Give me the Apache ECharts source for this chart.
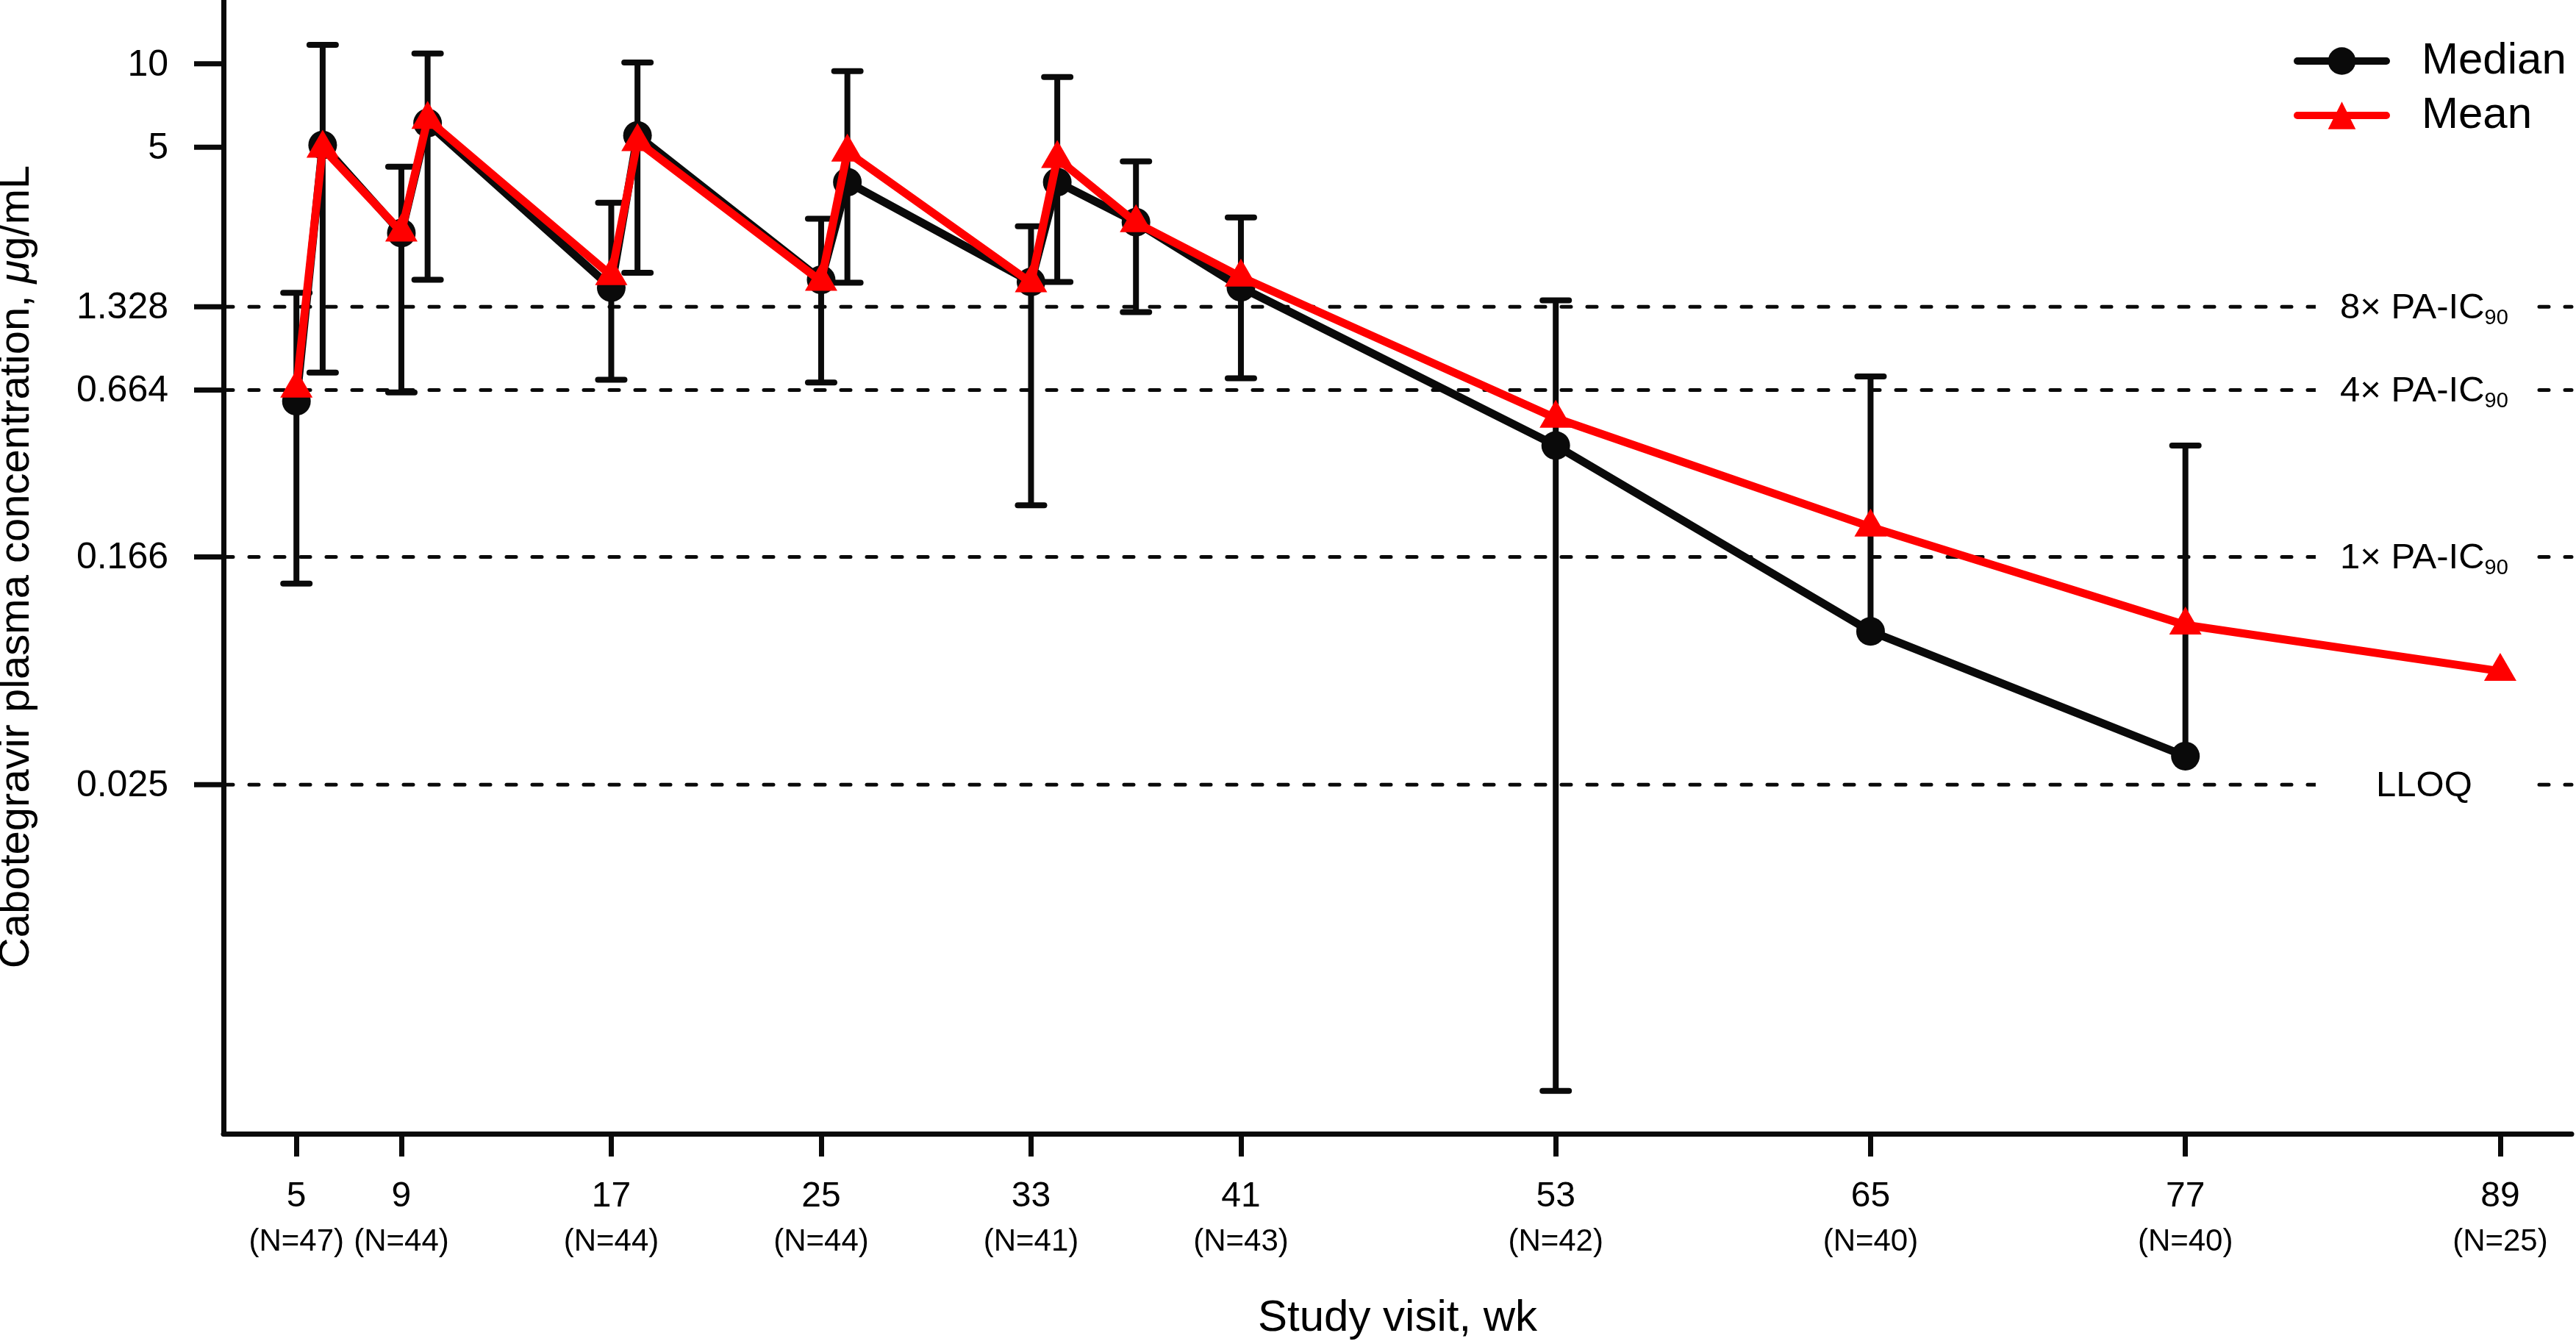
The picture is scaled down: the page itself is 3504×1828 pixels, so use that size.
<!DOCTYPE html>
<html>
<head>
<meta charset="utf-8">
<script src="https://cdn.jsdelivr.net/npm/echarts@6.0.0/dist/echarts.min.js"></script>
<style>
html,body{margin:0;padding:0;background:#ffffff;}
#chart{width:3504px;height:1828px;}
</style>
</head>
<body>
<div id="chart"></div>
<script>
// ---------------- data ----------------
const weeks   = [5, 6, 9, 10, 17, 18, 25, 26, 33, 34, 37, 41, 53, 65, 77, 89];
const median  = [0.605, 5.09, 2.45, 6.11, 1.555, 5.51, 1.66, 3.74, 1.63, 3.74, 2.68, 1.56, 0.419, 0.0894, 0.0317, null];
const mean    = [0.676, 4.96, 2.47, 6.30, 1.72, 5.24, 1.64, 4.80, 1.62, 4.55, 2.67, 1.70, 0.526, 0.213, 0.0943, 0.0642];
const errHigh = [1.49, 11.7, 4.25, 10.9, 3.15, 10.1, 2.76, 9.4, 2.59, 8.96, 4.44, 2.79, 1.40, 0.744, 0.419, null];
const errLow  = [0.133, 0.768, 0.651, 1.66, 0.724, 1.76, 0.707, 1.62, 0.255, 1.63, 1.27, 0.732, 0.00196, null, null, null];

const xTicks      = [5, 9, 17, 25, 33, 41, 53, 65, 77, 89];
const xTickLabels = ['5', '9', '17', '25', '33', '41', '53', '65', '77', '89'];
const xN          = [47, 44, 44, 44, 41, 43, 42, 40, 40, 25];

const yTickValues = [10, 5, 1.328, 0.664, 0.166, 0.025];
const yTickLabels = ['10', '5', '1.328', '0.664', '0.166', '0.025'];

const refValues   = [1.328, 0.664, 0.166, 0.025];
const refMain     = ['8\u00d7 PA-IC', '4\u00d7 PA-IC', '1\u00d7 PA-IC', 'LLOQ'];
const refSub      = ['90', '90', '90', ''];

// ---------------- layout constants ----------------
const FONT = "'Liberation Sans', Arial, Helvetica, sans-serif";
const X_MIN = 2.22, X_MAX = 91.72;
const Y_MIN = 0.001374, Y_MAX = 16.99;
const REF_LABEL_X = 86.1;
const BLACK = '#0a0a0a';
const RED = '#ff0000';

const medianData = weeks.map((w, i) => [w, median[i]]).filter(d => d[1] != null);
const meanData = weeks.map((w, i) => [w, mean[i]]).filter(d => d[1] != null);
const errData = weeks.map((w, i) => [w, errLow[i], errHigh[i], median[i]]).filter(d => d[2] != null);

const chart = echarts.init(document.getElementById('chart'), null, {renderer: 'canvas'});

const option = {
  animation: false,
  backgroundColor: '#ffffff',
  textStyle: {fontFamily: FONT, color: '#000'},
  grid: {left: 304, right: 6, top: 0, bottom: 286, containLabel: false, outerBoundsMode: 'none'},
  legend: {
    data: ['Median', 'Mean'],
    orient: 'vertical',
    left: 3120,
    top: 53,
    padding: 0,
    itemWidth: 121,
    itemHeight: 47,
    itemGap: 14,
    selectedMode: false,
    lineStyle: {width: 10},
    textStyle: {fontSize: 60, lineHeight: 60, fontFamily: FONT, color: '#000', padding: [0, 0, 0, 43]}
  },
  xAxis: {
    type: 'value',
    min: X_MIN,
    max: X_MAX,
    splitLine: {show: false},
    axisLine: {show: true, lineStyle: {color: BLACK, width: 7, cap: 'round'}},
    axisTick: {show: true, inside: false, length: 31, customValues: xTicks, lineStyle: {color: BLACK, width: 7}},
    axisLabel: {
      show: true,
      customValues: xTicks,
      margin: 56,
      formatter: function (val) {
        const i = xTicks.indexOf(Math.round(val));
        return '{a|' + xTickLabels[i] + '}\n{b|(N=' + xN[i] + ')}';
      },
      rich: {
        a: {fontSize: 48, lineHeight: 60, fontFamily: FONT, color: '#000', align: 'center'},
        b: {fontSize: 42, lineHeight: 62, fontFamily: FONT, color: '#000', align: 'center'}
      }
    },
    name: 'Study visit, wk',
    nameLocation: 'middle',
    nameGap: 221,
    nameTextStyle: {fontSize: 60, lineHeight: 60, fontFamily: FONT, color: '#000'}
  },
  yAxis: {
    type: 'log',
    logBase: 10,
    min: Y_MIN,
    max: Y_MAX,
    splitLine: {show: false},
    axisLine: {show: true, lineStyle: {color: BLACK, width: 7}},
    axisTick: {show: false},
    axisLabel: {show: false},
    name: '{n|Cabotegravir plasma concentration, }{i|\u03bc}{n|g/mL}',
    nameLocation: 'middle',
    nameRotate: 90,
    nameGap: 252,
    nameTextStyle: {
      fontSize: 58, lineHeight: 58, fontFamily: FONT, color: '#000',
      rich: {
        n: {fontSize: 58, lineHeight: 58, fontFamily: FONT, color: '#000'},
        i: {fontSize: 58, lineHeight: 58, fontFamily: FONT, color: '#000', fontStyle: 'italic'}
      }
    }
  },
  series: [
    {
      name: 'refLines',
      type: 'custom',
      silent: true,
      z: 1,
      clip: false,
      data: refValues.map(v => [REF_LABEL_X, v]),
      renderItem: function (params, api) {
        const i = params.dataIndex;
        const v = api.value(1);
        const pl = api.coord([X_MIN, v]);
        const pr = api.coord([X_MAX, v]);
        const pc = api.coord([api.value(0), v]);
        const text = '{m|' + refMain[i] + '}' + (refSub[i] ? '{s|' + refSub[i] + '}' : '');
        return {
          type: 'group',
          children: [
            {type: 'line', shape: {x1: pl[0], y1: pl[1], x2: pr[0], y2: pr[1]},
             style: {stroke: BLACK, lineWidth: 5, lineDash: [13, 22], lineCap: 'round'}},
            {type: 'rect', shape: {x: pc[0] - 147.5, y: pc[1] - 24, width: 295, height: 48},
             style: {fill: '#ffffff'}},
            {type: 'text', x: pc[0], y: pc[1] + 2,
             style: {
               text: text, align: 'center', verticalAlign: 'middle', fill: '#000',
               rich: {
                 m: {fontSize: 49, lineHeight: 56, fontFamily: FONT, fill: '#000'},
                 s: {fontSize: 29, lineHeight: 29, fontFamily: FONT, fill: '#000', verticalAlign: 'bottom'}
               }
             }}
          ]
        };
      }
    },
    {
      name: 'errorbars',
      type: 'custom',
      silent: true,
      z: 2,
      clip: false,
      data: errData,
      encode: {x: 0, y: [1, 2, 3]},
      renderItem: function (params, api) {
        const x = api.value(0);
        const lo = api.value(1);
        const hi = api.value(2);
        const md = api.value(3);
        const pHi = api.coord([x, hi]);
        const hasLo = !isNaN(lo) && lo != null && lo > 0;
        const pLo = hasLo ? api.coord([x, lo]) : api.coord([x, md]);
        const half = 18;
        const children = [
          {type: 'line', shape: {x1: pHi[0], y1: pHi[1], x2: pLo[0], y2: pLo[1]}, style: {stroke: BLACK, lineWidth: 8}},
          {type: 'line', shape: {x1: pHi[0] - half, y1: pHi[1], x2: pHi[0] + half, y2: pHi[1]}, style: {stroke: BLACK, lineWidth: 8, lineCap: 'round'}}
        ];
        if (hasLo) {
          children.push({type: 'line', shape: {x1: pLo[0] - half, y1: pLo[1], x2: pLo[0] + half, y2: pLo[1]}, style: {stroke: BLACK, lineWidth: 8, lineCap: 'round'}});
        }
        return {type: 'group', children: children};
      }
    },
    {
      name: 'Median',
      type: 'line',
      z: 3,
      silent: true,
      data: medianData,
      showSymbol: true,
      showAllSymbol: true,
      symbol: 'circle',
      symbolSize: 39,
      lineStyle: {color: BLACK, width: 11, join: 'round', cap: 'round'},
      itemStyle: {color: BLACK},
      emphasis: {disabled: true}
    },
    {
      name: 'Mean',
      type: 'line',
      z: 4,
      silent: true,
      data: meanData,
      showSymbol: true,
      showAllSymbol: true,
      symbol: 'triangle',
      symbolSize: [44, 38],
      symbolOffset: [0, -6],
      lineStyle: {color: RED, width: 11, join: 'round', cap: 'round'},
      itemStyle: {color: RED},
      emphasis: {disabled: true}
    },
    {
      name: 'yTicks',
      type: 'custom',
      z: 6,
      silent: true,
      clip: false,
      data: yTickValues.map(v => [X_MIN, v]),
      renderItem: function (params, api) {
        const p = api.coord([api.value(0), api.value(1)]);
        const i = params.dataIndex;
        return {
          type: 'group',
          children: [
            {type: 'line', shape: {x1: p[0] - 40, y1: p[1], x2: p[0], y2: p[1]}, style: {stroke: BLACK, lineWidth: 7}},
            {type: 'text', x: p[0] - 75, y: p[1] + 2, style: {text: yTickLabels[i], fontSize: 50, fontFamily: FONT, fill: '#000', align: 'right', verticalAlign: 'middle'}}
          ]
        };
      }
    }
  ]
};

chart.setOption(option);
</script>
</body>
</html>
